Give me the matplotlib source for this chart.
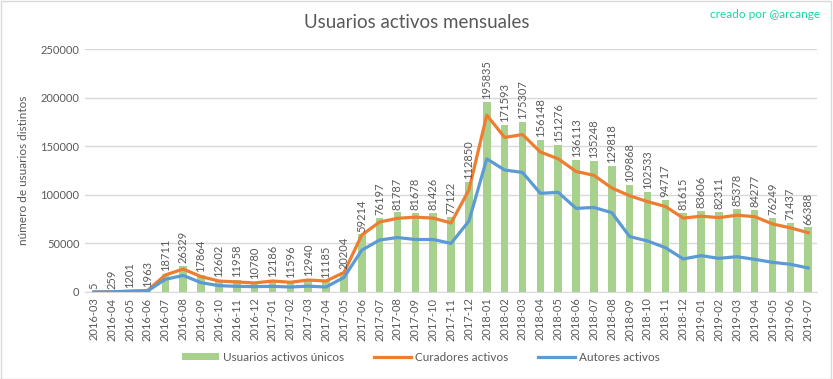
import numpy as np
import matplotlib
matplotlib.use("Agg")
import matplotlib.pyplot as plt
from matplotlib.patches import Rectangle

plt.rcParams['font.family'] = ['Lato', 'DejaVu Sans']

# === Data ===
months = ['2016-03', '2016-04', '2016-05', '2016-06', '2016-07', '2016-08', '2016-09',
          '2016-10', '2016-11', '2016-12',
          '2017-01', '2017-02', '2017-03', '2017-04', '2017-05', '2017-06', '2017-07',
          '2017-08', '2017-09', '2017-10', '2017-11', '2017-12',
          '2018-01', '2018-02', '2018-03', '2018-04', '2018-05', '2018-06', '2018-07',
          '2018-08', '2018-09', '2018-10', '2018-11', '2018-12',
          '2019-01', '2019-02', '2019-03', '2019-04', '2019-05', '2019-06', '2019-07']

usuarios = [5, 259, 1201, 1963, 18711, 26329, 17864, 12602, 11958, 10780,
            12186, 11596, 12940, 11185, 20204, 59214, 76197, 81787, 81678, 81426, 77122, 112850,
            195835, 171593, 175307, 156148, 151276, 136113, 135248, 129818, 109868, 102533, 94717, 81615,
            83606, 82311, 85378, 84277, 76249, 71437, 66388]

curadores = [5, 200, 900, 1500, 17500, 23600, 15800, 11300, 10300, 9300,
             11300, 10000, 12300, 11300, 20000, 58600, 72000, 75800, 77000, 76000, 71000, 105000,
             182000, 159000, 162000, 144000, 137000, 124000, 120000, 107000, 99000, 93000, 88000, 76000,
             78000, 76500, 79000, 77500, 70000, 66000, 61000]

autores = [0, 100, 600, 1000, 13000, 17000, 9600, 6500, 5800, 5500,
           5800, 5100, 6000, 5100, 15000, 43000, 53500, 56000, 54000, 54000, 50000, 73000,
           137000, 125500, 123000, 101500, 102500, 86000, 87000, 81600, 57000, 52500, 45600, 34000,
           37400, 34600, 36300, 33600, 30500, 28500, 24700]

# === Plot ===
GREEN = '#a9d18e'
ORANGE = '#ed7d31'
BLUE = '#5b9bd5'
GRAY_TXT = '#595959'
GRID = '#d9d9d9'

fig = plt.figure(figsize=(8.33, 3.79), dpi=100)
ax = fig.add_axes([0.102, 0.2296, 0.879, 0.6411])

x = np.arange(len(months))
bars = ax.bar(x, usuarios, width=0.42, color=GREEN, label='Usuarios activos únicos', zorder=2)
l1, = ax.plot(x, curadores, color=ORANGE, lw=2.3, label='Curadores activos', zorder=3)
l2, = ax.plot(x, autores, color=BLUE, lw=2.3, label='Autores activos', zorder=3)

for xi, v in zip(x, usuarios):
    ax.text(xi, v + 3000, str(v), rotation=90, ha='center', va='bottom',
            fontsize=8, color=GRAY_TXT, zorder=4)

ax.set_xlim(-0.5, len(months) - 0.5)
ax.set_ylim(0, 250000)
ax.set_yticks(np.arange(0, 250001, 50000))
ax.set_yticklabels([str(int(t)) for t in np.arange(0, 250001, 50000)], fontsize=8, color=GRAY_TXT)
ax.set_xticks(x)
ax.set_xticklabels(months, rotation=90, fontsize=8, color=GRAY_TXT)
ax.tick_params(axis='both', length=0, pad=4)
ax.grid(axis='y', color=GRID, lw=1, zorder=0)
for s in ['top', 'right', 'left']:
    ax.spines[s].set_visible(False)
ax.spines['bottom'].set_color(GRID)

ax.set_ylabel('número de usuarios distintos', fontsize=8.5, color=GRAY_TXT, labelpad=8)

fig.text(0.5, 0.94, 'Usuarios activos mensuales', ha='center', va='center',
         fontsize=13.5, color=GRAY_TXT)
fig.text(0.985, 0.962, 'creado por @arcange', ha='right', va='center',
         fontsize=8.5, color='#1dd3a7')

fig.legend([bars, l1, l2], ['Usuarios activos únicos', 'Curadores activos', 'Autores activos'],
           loc='center', bbox_to_anchor=(0.505, 0.058), ncol=3, frameon=False,
           fontsize=8.5, labelcolor=GRAY_TXT, handlelength=3.2, handleheight=0.5,
           handletextpad=0.3, columnspacing=2.5)

fig.patches.append(Rectangle((0.001, 0.001), 0.997, 0.996, transform=fig.transFigure,
                             fill=False, edgecolor=GRID, lw=1))

plt.savefig('out.png', dpi=100)
plt.close()
